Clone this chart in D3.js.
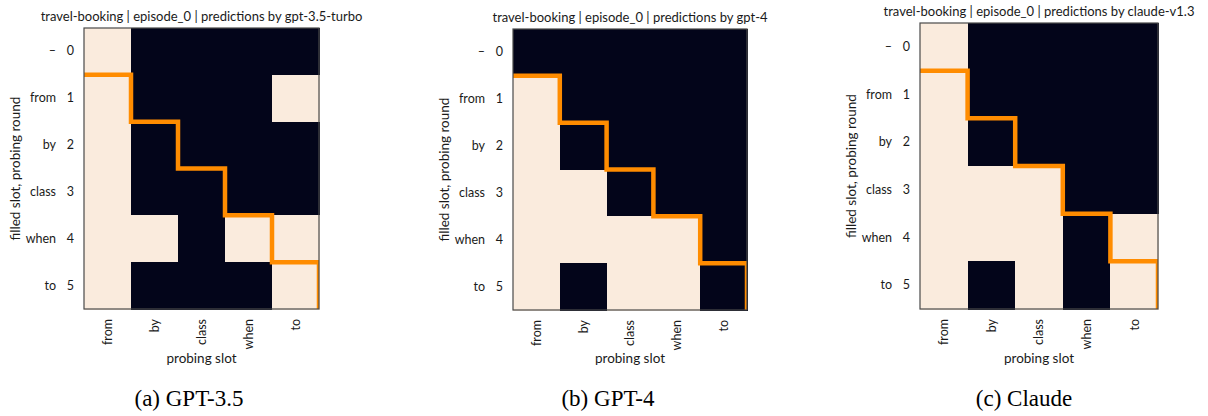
<!DOCTYPE html>
<html>
<head>
<meta charset="utf-8">
<script src="https://cdn.jsdelivr.net/npm/d3@7"></script>
<style>
  html, body { margin: 0; padding: 0; background: #fff; }
  svg text { font-family: Lato, "Open Sans", sans-serif; fill: #1a1a1a; }
  svg text.caption { font-family: "Liberation Serif", "Times New Roman", serif; fill: #000; }
</style>
</head>
<body>
<div class="FigWrapper"></div>
<script>
// slots and rounds
const probingSlots = ['from', 'by', 'class', 'when', 'to'];
const filledSlots = ['–', 'from', 'by', 'class', 'when', 'to'];
const rounds = [0, 1, 2, 3, 4, 5];

// 1 = slot predicted as filled, 0 = not; rows are probing rounds
const gpt35 = [
  [1, 0, 0, 0, 0],
  [1, 0, 0, 0, 1],
  [1, 0, 0, 0, 0],
  [1, 0, 0, 0, 0],
  [1, 1, 0, 1, 1],
  [1, 0, 0, 0, 1],
];
const gpt4 = [
  [0, 0, 0, 0, 0],
  [1, 0, 0, 0, 0],
  [1, 0, 0, 0, 0],
  [1, 1, 0, 0, 0],
  [1, 1, 1, 1, 0],
  [1, 0, 1, 1, 0],
];
const claude = [
  [1, 0, 0, 0, 0],
  [1, 0, 0, 0, 0],
  [1, 0, 0, 0, 0],
  [1, 1, 1, 0, 0],
  [1, 1, 1, 0, 1],
  [1, 0, 1, 0, 1],
];

const titles = [
  'travel-booking | episode_0 | predictions by gpt-3.5-turbo',
  'travel-booking | episode_0 | predictions by gpt-4',
  'travel-booking | episode_0 | predictions by claude-v1.3',
];
const captions = ['(a) GPT-3.5', '(b) GPT-4', '(c) Claude'];
const matrices = [gpt35, gpt4, claude];

// where each panel sits on the page
const PANELS = [
  { x: 84, y: 28, w: 235, h: 281, titleY: 21, capX: 189 },
  { x: 513, y: 29, w: 234, h: 281, titleY: 22, capX: 608 },
  { x: 920, y: 23, w: 238, h: 286, titleY: 16, capX: 1024 },
];

const COLORS = { on: '#faebdd', off: '#03051a', step: '#ff8c00', frame: '#4a4a4a' };

const svg = d3.select('.FigWrapper')
  .append('svg')
  .attr('width', 1208)
  .attr('height', 416);

PANELS.forEach((p, k) => {
  const g = svg.append('g')
    .attr('transform', `translate(${p.x}, ${p.y})`);

  const x = d3.scaleBand().domain(probingSlots).range([0, p.w]);
  const y = d3.scaleBand().domain(rounds).range([0, p.h]);
  const color = d3.scaleOrdinal().domain([0, 1]).range([COLORS.off, COLORS.on]);

  const cells = [];
  matrices[k].forEach((row, r) => {
    row.forEach((v, c) => cells.push({ r, c, v }));
  });

  g.selectAll('rect.cell')
    .data(cells)
    .enter()
    .append('rect')
    .classed('cell', true)
    .attr('x', d => x(probingSlots[d.c]))
    .attr('y', d => y(rounds[d.r]))
    .attr('width', x.bandwidth() + 1)
    .attr('height', y.bandwidth() + 1)
    .attr('shape-rendering', 'crispEdges')
    .attr('fill', d => color(d.v));

  // staircase: slot c becomes filled at round c + 1
  const xb = d3.scaleLinear().domain([0, probingSlots.length]).range([0, p.w]);
  const yb = d3.scaleLinear().domain([0, rounds.length]).range([0, p.h]);
  const steps = d3.range(probingSlots.length + 1).map(c => [c, c + 1]);

  g.append('clipPath')
    .attr('id', `clip${k}`)
    .append('rect')
    .attr('width', p.w)
    .attr('height', p.h);

  g.append('path')
    .datum(steps)
    .attr('clip-path', `url(#clip${k})`)
    .attr('d', d3.line().x(d => xb(d[0])).y(d => yb(d[1])).curve(d3.curveStepAfter))
    .attr('fill', 'none')
    .attr('stroke', COLORS.step)
    .attr('stroke-width', 4.5);

  g.append('rect')
    .attr('width', p.w)
    .attr('height', p.h)
    .attr('fill', 'none')
    .attr('stroke', COLORS.frame)
    .attr('stroke-width', 1.2);

  // y axis: slot name and round number
  const yAxis = g.append('g')
    .call(d3.axisLeft(y).tickSize(0).tickPadding(10));
  yAxis.select('.domain').remove();
  yAxis.selectAll('.tick text')
    .attr('font-size', 12.5)
    .attr('font-family', null)
    .attr('fill', null);
  yAxis.selectAll('.tick')
    .append('text')
    .attr('x', -28)
    .attr('dy', '0.32em')
    .attr('text-anchor', 'end')
    .attr('font-size', 12.5)
    .text(d => filledSlots[d]);

  // x axis: rotated slot names
  const xAxis = g.append('g')
    .attr('transform', `translate(0, ${p.h})`)
    .call(d3.axisBottom(x).tickSize(0));
  xAxis.select('.domain').remove();
  xAxis.selectAll('.tick text')
    .attr('font-size', 12.5)
    .attr('font-family', null)
    .attr('fill', null)
    .attr('transform', 'rotate(-90)')
    .attr('text-anchor', 'end')
    .attr('x', -10)
    .attr('y', 0)
    .attr('dy', '0.35em');

  g.append('text')
    .attr('x', p.w / 2)
    .attr('y', 363 - p.y)
    .attr('text-anchor', 'middle')
    .attr('font-size', 13.5)
    .text('probing slot');

  g.append('text')
    .attr('transform', `translate(-64, ${p.h / 2}) rotate(-90)`)
    .attr('text-anchor', 'middle')
    .attr('font-size', 13.5)
    .text('filled slot, probing round');

  g.append('text')
    .attr('x', p.w / 2)
    .attr('y', p.titleY - p.y)
    .attr('text-anchor', 'middle')
    .attr('font-size', 13)
    .text(titles[k]);

  svg.append('text')
    .classed('caption', true)
    .attr('x', p.capX)
    .attr('y', 406)
    .attr('text-anchor', 'middle')
    .attr('font-size', 23)
    .text(captions[k]);
});
</script>
</body>
</html>
